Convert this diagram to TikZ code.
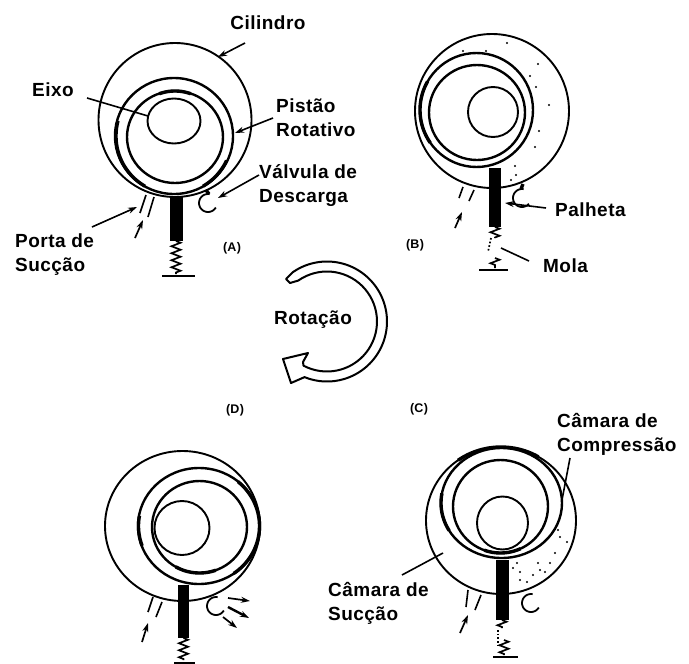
\documentclass[tikz,border=0pt]{standalone}
\usepackage{fontspec}
\setmainfont{Liberation Sans}[LetterSpace=2.5]
\usetikzlibrary{arrows.meta,shapes.geometric,decorations.pathmorphing}
\tikzset{
 ring/.style={draw,ellipse,inner sep=0pt,outer sep=0pt},
 cyl/.style={ring,line width=1.9pt},
 pist/.style={ring,line width=2.4pt},
 eix/.style={ring,line width=1.9pt},
 vane/.style={fill=black,draw=none,inner sep=0pt,outer sep=0pt,rectangle},
 lab/.style={font=\bfseries\fontsize{19}{23}\selectfont,inner sep=0pt,anchor=west,align=left},
 tag/.style={font=\bfseries\fontsize{12.5}{14}\selectfont,inner sep=0pt},
 lead/.style={line width=1.6pt,-{Stealth[length=9pt,width=6pt]}},
 plain/.style={line width=1.6pt},
 port/.style={line width=1.6pt},
 flow/.style={line width=1.7pt,-{Stealth[length=9pt,width=6pt]}},
 valve/.style={line width=1.8pt},
 spr/.style={line width=1.7pt,decorate,decoration={zigzag,amplitude=4.5pt,segment length=7pt}},
 basep/.style={line width=2.4pt},
 heavy/.style={line width=3.4pt},
}
% arc on an ellipse, y pointing down
\newcommand{\earc}[7][heavy]{\draw[#1] plot[domain=#6:#7,samples=24,smooth] ({#2+#4*cos(\x)},{#3-#5*sin(\x)});}
\newcommand{\speck}[1]{\foreach \a/\b in {#1}{\fill (\a,\b) circle[radius=1.1pt];}}
\begin{document}
\begin{tikzpicture}[x=1pt,y=-1pt]
\useasboundingbox (0,0) rectangle (689,664);
% ---------- A
\node[cyl,minimum width=153pt,minimum height=154pt] (acyl) at (175,120) {};
\node[pist,minimum width=118pt,minimum height=116pt] (apist) at (174,136) {};
\node[pist,minimum width=96pt,minimum height=92pt] (ainn) at (175,137) {};
\node[eix,minimum width=53pt,minimum height=45pt] (aeix) at (174,121) {};
\earc{174}{136}{58}{58}{165}{205}
\earc{175}{137}{46}{46}{70}{110}
\earc{174}{136}{58}{58}{205}{240}
\earc{174}{136}{58}{58}{300}{335}
\node[vane,minimum width=13pt,minimum height=44pt] (avane) at (176,219) {};
\draw[spr] (avane.south) -- (176,274);
\draw[basep] (162,276) -- (195,276);
\draw[port] (146,195) -- (140,213);
\draw[port] (154,197) -- (148,217);
\coordinate (aflow0) at (135,238); \coordinate (aflow1) at (143,220);
\draw[flow] (aflow0) -- (aflow1);
\earc[valve]{208}{203}{9}{9}{80}{330}
\draw[heavy] (206,190) -- (209,194);
\node[lab,anchor=center] (lcil) at (268,23) {Cilindro};
\node[lab,anchor=center] (leix) at (53,90) {Eixo};
\node[lab] (lpis) at (276,118) {Pistão\\[1pt]Rotativo};
\node[lab] (lval) at (259,186) {Válvula de\\[1pt]Descarga};
\node[lab] (lpor) at (15,255) {Porta de\\[1pt]Sucção};
\node[tag] (ta) at (232,248) {(A)};
\coordinate (c1) at (245,43);
\draw[lead] (c1) -- (218,57);
\coordinate (c2) at (87,98); \coordinate (c2e) at (148,116);
\draw[plain] (c2) -- (c2e);
\coordinate (c3) at (273,118); \coordinate (c3e) at (235,133);
\draw[lead] (c3) -- (c3e);
\coordinate (c4) at (259,175); \coordinate (c4e) at (218,198);
\draw[lead] (c4) -- (c4e);
\coordinate (c5) at (92,227); \coordinate (c5e) at (137,207);
\draw[lead] (c5) -- (c5e);
% ---------- B
\node[cyl,minimum width=154pt,minimum height=154pt] (bcyl) at (492,111) {};
\node[pist,minimum width=113pt,minimum height=114pt] (bpist) at (476.5,110) {};
\node[pist,minimum width=96pt,minimum height=95pt] (binn) at (477,112.5) {};
\node[eix,minimum width=50pt,minimum height=50pt] (beix) at (493,112) {};
\earc{476.5}{110}{56.5}{57}{150}{215}
\node[vane,minimum width=12pt,minimum height=59pt] (bvane) at (495,197.5) {};
\draw[spr] (495,227) -- (495,238);
\draw[line width=1.7pt,dotted] (491,238) -- (488,252);
\draw[spr] (495,258) -- (495,268);
\draw[basep] (479,270) -- (508,270);
\draw[port] (463,187) -- (459,198);
\draw[port] (474,190) -- (469,201);
\coordinate (bflow0) at (455,228); \coordinate (bflow1) at (462,212);
\draw[flow] (bflow0) -- (bflow1);
\earc[valve]{522}{198}{9}{9}{80}{320}
\draw[heavy] (523,184) -- (521,189);
\node[lab] (lpal) at (555,210) {Palheta};
\node[lab] (lmol) at (543,266) {Mola};
\node[tag] (tb) at (415,245) {(B)};
\coordinate (d1) at (546,208);
\draw[lead] (d1) -- (505,203);
\coordinate (d2) at (529,261); \coordinate (d2e) at (501,248);
\draw[plain] (d2) -- (d2e);
\speck{507/43,486/51,463/51,538/64,530/76,536/87,549/105,539/131,535/147,515/166,511/180,516/175,527/85}
% ---------- Rotation arrow
\coordinate (rc) at (327,321.5);
\draw[line width=2pt,line join=round]
  plot[domain=125:-112,samples=50,smooth] ({327+60*cos(\x)},{321.5-60*sin(\x)})
  -- (291,383) -- (283,359) -- (308,353) -- (303,362)
  -- plot[domain=-118:125,samples=50,smooth] ({327+50*cos(\x)},{321.5-50*sin(\x)})
  -- (290,283) -- (286,279) -- cycle;
\node[lab,anchor=center] (lrot) at (313,320) {Rotação};
\node[tag] (td) at (235,410) {(D)};
\node[tag] (tc) at (419,409) {(C)};
% ---------- D
\node[cyl,minimum width=155pt,minimum height=150pt] (dcyl) at (182.5,526) {};
\node[pist,minimum width=122pt,minimum height=116pt] (dpist) at (199,526) {};
\node[pist,minimum width=95pt,minimum height=92pt] (dinn) at (199.5,527) {};
\node[eix,minimum width=55pt,minimum height=54pt] (deix) at (182,528) {};
\earc{199}{526}{60.5}{58}{-55}{50}
\earc{199}{526}{60.5}{58}{170}{200}
\earc{199.5}{527}{47.5}{46}{240}{290}
\node[vane,minimum width=11pt,minimum height=53pt] (dvane) at (183.5,611.5) {};
\draw[spr] (dvane.south) -- (183.5,660);
\draw[basep] (174,663) -- (195,663);
\draw[port] (153,597) -- (148,612);
\draw[port] (162,602) -- (156,617);
\coordinate (dflow0) at (142,642); \coordinate (dflow1) at (148,623);
\draw[flow] (dflow0) -- (dflow1);
\earc[valve]{216}{606}{9}{9}{80}{330}
\coordinate (e1) at (228,598); \coordinate (e2) at (250,601);
\draw[flow] (e1) -- (e2);
\coordinate (e3) at (228,607); \coordinate (e4) at (249,618);
\draw[flow,line width=2.4pt] (e3) -- (e4);
\coordinate (e5) at (223,617); \coordinate (e6) at (237,628);
\draw[flow] (e5) -- (e6);
% ---------- C
\node[cyl,minimum width=150pt,minimum height=147pt] (ccyl) at (501,520.5) {};
\node[pist,minimum width=121pt,minimum height=110pt] (cpist) at (501.5,503) {};
\node[pist,minimum width=95pt,minimum height=93pt] (cinn) at (500.5,506.5) {};
\node[eix,minimum width=51pt,minimum height=53pt] (ceix) at (502.5,523) {};
\earc{501.5}{503}{60.5}{55}{170}{210}
\earc{501}{520.5}{75}{73.5}{60}{125}
\earc{500.5}{506.5}{47.5}{46.5}{250}{295}
\node[vane,minimum width=13pt,minimum height=60pt] (cvane) at (502.5,590) {};
\draw[spr] (502,620) -- (502,628);
\draw[line width=1.7pt,dotted] (498,630) -- (498,645);
\draw[spr] (504,640) -- (504,655);
\draw[basep] (493,657) -- (518,657);
\draw[port] (468,590) -- (466,607);
\draw[port] (481,595) -- (475,610);
\coordinate (cflow0) at (460,633); \coordinate (cflow1) at (468,615);
\draw[flow] (cflow0) -- (cflow1);
\earc[valve]{531}{603}{9}{9}{80}{330}
\node[lab] (lcc) at (557,434.5) {Câmara de\\[1pt]Compressão};
\node[lab] (lcs) at (328,603) {Câmara de\\[1pt]Sucção};
\coordinate (f1) at (570,458); \coordinate (f1e) at (562,500);
\draw[plain] (f1) -- (f1e);
\coordinate (f2) at (402,575); \coordinate (f2e) at (443,553);
\draw[plain] (f2) -- (f2e);
\speck{558/530,560/537,567/542,555/553,517/563,538/563,513/568,520/572,540/570,520/580,527/582,545/572,533/575,550/563}
\end{tikzpicture}
\end{document}
